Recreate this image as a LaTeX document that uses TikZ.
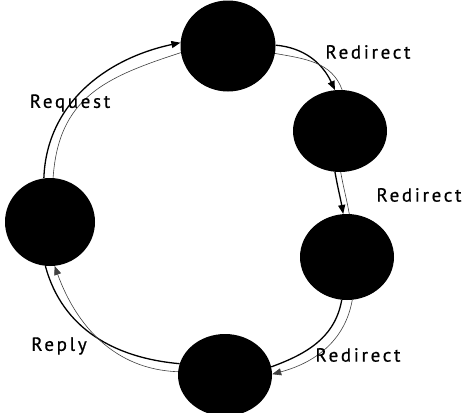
\documentclass[tikz,border=0pt]{standalone}
\usepackage{fontspec}
\setmainfont{PT Sans}[LetterSpace=14,FakeBold=0.6]
\usetikzlibrary{shapes.geometric,arrows.meta}
\begin{document}
\begin{tikzpicture}[x=1pt,y=-1pt,
  blob/.style={ellipse,fill=black,inner sep=0pt},
  thickline/.style={line width=1.3pt},
  thinline/.style={line width=0.6pt,black!75},
  tip/.style={-{Triangle[length=9pt,width=7pt]}},
  lbl/.style={font=\fontsize{19}{22}\selectfont,inner sep=0pt}]
\useasboundingbox (0,0) rectangle (467,413);
\node[blob,minimum width=95pt,minimum height=91pt] (T) at (228,46) {};
\node[blob,minimum width=94pt,minimum height=82pt] (RU) at (340,131) {};
\node[blob,minimum width=94pt,minimum height=86pt] (RL) at (347,257) {};
\node[blob,minimum width=94pt,minimum height=82pt] (B) at (225,375) {};
\node[blob,minimum width=90pt,minimum height=88pt] (L) at (50,222) {};
% Request
\draw[thickline,tip] (L.98) to[out=88,in=192] (T.176);
\draw[thinline] (L.86) to[out=86,in=198,looseness=1.15] (T.188);
% Redirect 1
\draw[thickline,tip] (T.1) to[out=-5,in=115] (RU.97);
\draw[thinline] (T.351) to[out=-10,in=110] (RU.87);
% Redirect 2
\draw[thickline,tip] (RU.263) to[out=-80,in=100] (RL.95);
\draw[thinline] (RU.271) to[out=-80,in=100] (RL.87);
% Redirect 3
\draw[thickline] (RL.263) to[out=-100,in=20] (B.10);
\draw[thinline,tip] (RL.277) to[out=-100,in=15] (B.1);
% Reply
\draw[thickline] (B.166) to[out=175,in=-75] (L.264);
\draw[thinline,tip] (B.176) to[out=178,in=-70] (L.276);
% labels
\node[lbl] (lreq) at (70,103) {Request};
\node[lbl] (lr1) at (368,52) {Redirect};
\node[lbl] (lr2) at (419,195) {Redirect};
\node[lbl] (lr3) at (358,355) {Redirect};
\node[lbl] (lrep) at (59,346) {Reply};
\end{tikzpicture}
\end{document}
